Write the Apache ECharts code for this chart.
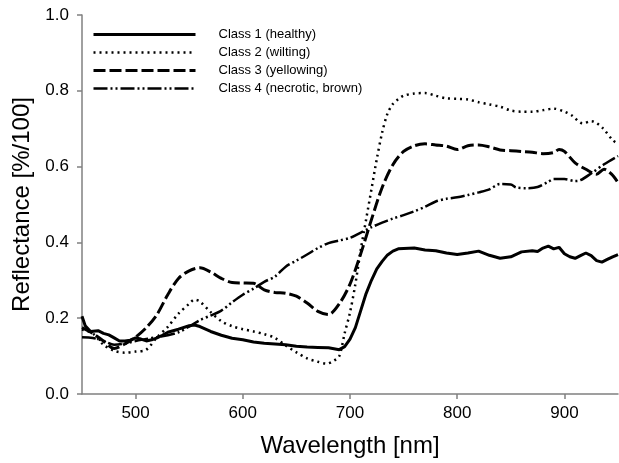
<!DOCTYPE html>
<html>
<head>
<meta charset="utf-8">
<script src="https://cdn.jsdelivr.net/npm/echarts@6/dist/echarts.min.js"></script>
<style>
html,body{margin:0;padding:0;background:#fff;}
#chart{width:619px;height:463px;}
</style>
</head>
<body>
<div id="chart"></div>
<script>
// ---- data ----
const seriesNames = ["Class 1 (healthy)", "Class 2 (wilting)", "Class 3 (yellowing)", "Class 4 (necrotic, brown)"];
const xTicks = [500, 600, 700, 800, 900];
const yTicks = [0.0, 0.2, 0.4, 0.6, 0.8, 1.0];

const c1Wl  = [450,453,458,465,470,475,480,485,490,495,500,505,510,515,520,525,530,540,550,555,560,570,580,590,600,610,620,630,640,650,660,670,680,690,695,700,705,710,715,720,725,730,735,740,745,750,760,770,780,790,800,810,820,830,840,845,850,860,870,875,880,885,890,895,900,905,910,915,920,925,930,935,940,945,950];
const c1Val = [0.205,0.18,0.165,0.167,0.16,0.156,0.148,0.14,0.14,0.142,0.148,0.145,0.14,0.143,0.148,0.155,0.163,0.171,0.18,0.182,0.178,0.165,0.155,0.147,0.143,0.137,0.134,0.132,0.13,0.126,0.124,0.123,0.122,0.117,0.125,0.145,0.175,0.22,0.265,0.30,0.33,0.35,0.367,0.377,0.383,0.384,0.385,0.38,0.378,0.372,0.368,0.372,0.377,0.366,0.358,0.36,0.362,0.375,0.378,0.376,0.385,0.39,0.383,0.387,0.37,0.362,0.358,0.365,0.372,0.365,0.352,0.348,0.355,0.362,0.368];

const c2Wl  = [450,460,470,480,490,500,510,520,530,540,550,555,560,570,580,590,600,610,620,630,640,650,660,670,678,685,690,695,700,705,710,715,720,725,730,735,740,745,750,760,770,780,790,800,810,820,830,840,850,860,870,880,890,900,907,917,925,930,936,945,950];
const c2Val = [0.17,0.16,0.13,0.114,0.109,0.112,0.117,0.15,0.177,0.212,0.238,0.249,0.244,0.216,0.192,0.179,0.171,0.165,0.158,0.148,0.128,0.11,0.094,0.085,0.08,0.088,0.10,0.16,0.215,0.29,0.38,0.46,0.54,0.62,0.69,0.74,0.765,0.778,0.787,0.793,0.794,0.787,0.78,0.779,0.777,0.77,0.764,0.758,0.748,0.745,0.745,0.749,0.753,0.745,0.735,0.714,0.72,0.715,0.701,0.67,0.66];

const c3Wl  = [450,460,470,480,490,500,510,520,530,540,550,560,570,580,590,600,610,620,630,640,650,660,670,680,690,700,710,720,730,740,750,760,770,780,790,800,810,820,830,840,850,860,870,880,890,895,900,910,920,930,937,944,950];
const c3Val = [0.175,0.16,0.14,0.12,0.132,0.15,0.175,0.21,0.262,0.305,0.325,0.333,0.322,0.305,0.294,0.293,0.292,0.275,0.268,0.266,0.258,0.24,0.218,0.21,0.238,0.29,0.37,0.46,0.545,0.605,0.64,0.655,0.66,0.657,0.654,0.645,0.655,0.657,0.652,0.644,0.642,0.64,0.638,0.634,0.637,0.645,0.64,0.61,0.593,0.58,0.593,0.58,0.558];

const c4Wl  = [450,460,470,480,490,500,510,520,530,540,550,560,570,580,590,600,610,620,630,640,650,660,670,680,690,700,710,720,730,740,750,760,770,780,790,800,810,820,830,840,850,855,865,875,885,890,900,910,915,925,937,950];
const c4Val = [0.15,0.148,0.14,0.13,0.133,0.14,0.145,0.15,0.155,0.163,0.178,0.195,0.207,0.22,0.242,0.262,0.278,0.296,0.31,0.336,0.352,0.368,0.385,0.398,0.405,0.412,0.426,0.44,0.452,0.463,0.472,0.482,0.494,0.508,0.515,0.519,0.525,0.532,0.54,0.554,0.553,0.545,0.543,0.546,0.56,0.567,0.567,0.562,0.564,0.582,0.606,0.628];

// ---- chart ----
function pairs(xs, ys){ return xs.map((x,i)=>[x, ys[i]]); }
const styles = [
  {type:'solid', width:3},
  {type:[2,4], width:2.5},
  {type:[12,4], width:3},
  {type:[14,3,2,3,2,3], width:2.5}
];
const dataSets = [pairs(c1Wl,c1Val), pairs(c2Wl,c2Val), pairs(c3Wl,c3Val), pairs(c4Wl,c4Val)];
const FONT = 'Liberation Sans, Arial, sans-serif';

const chart = echarts.init(document.getElementById('chart'), null, {renderer:'canvas'});
chart.setOption({
  animation:false,
  backgroundColor:'#ffffff',
  textStyle:{fontFamily:FONT},
  grid:{left:82, right:1, top:15, bottom:63, containLabel:false},
  legend:{
    orient:'vertical', left:92, top:28, padding:0, itemWidth:102, itemHeight:14, itemGap:5,
    textStyle:{fontSize:13, color:'#000', fontFamily:FONT, padding:[0,0,0,18]},
    itemStyle:{opacity:0, borderWidth:0},
    data: seriesNames.map((n,i)=>({
      name:n,
      itemStyle:{opacity:0, borderWidth:0},
      lineStyle:{color:'#000', width:styles[i].width, type:styles[i].type}
    }))
  },
  xAxis:{
    type:'value', min:450, max:950,
    name:'Wavelength [nm]', nameLocation:'middle', nameGap:40,
    nameTextStyle:{fontSize:24, color:'#000', fontFamily:FONT},
    axisLine:{show:true, lineStyle:{color:'#808080', width:1.5}},
    axisTick:{show:true, length:5, lineStyle:{color:'#808080', width:1.5}, customValues:xTicks},
    axisLabel:{fontSize:17, color:'#000', margin:11, customValues:xTicks, fontFamily:FONT},
    splitLine:{show:false}
  },
  yAxis:{
    type:'value', min:0, max:1, interval:0.2,
    name:'Reflectance [%/100]', nameLocation:'middle', nameGap:40,
    nameTextStyle:{fontSize:24, color:'#000', fontFamily:FONT},
    axisLine:{show:true, lineStyle:{color:'#808080', width:1.5}},
    axisTick:{show:true, length:5, lineStyle:{color:'#808080', width:1.5}},
    axisLabel:{fontSize:17, color:'#000', margin:13, fontFamily:FONT, formatter:v=>v.toFixed(1)},
    splitLine:{show:false}
  },
  series: seriesNames.map((n,i)=>({
    name:n, type:'line', data:dataSets[i], showSymbol:false, symbol:'none',
    smooth: i===0 ? false : 0.3,
    lineStyle:{color:'#000', width:styles[i].width, type:styles[i].type},
    itemStyle:{color:'#000'},
    clip:true
  }))
});
</script>
</body>
</html>
